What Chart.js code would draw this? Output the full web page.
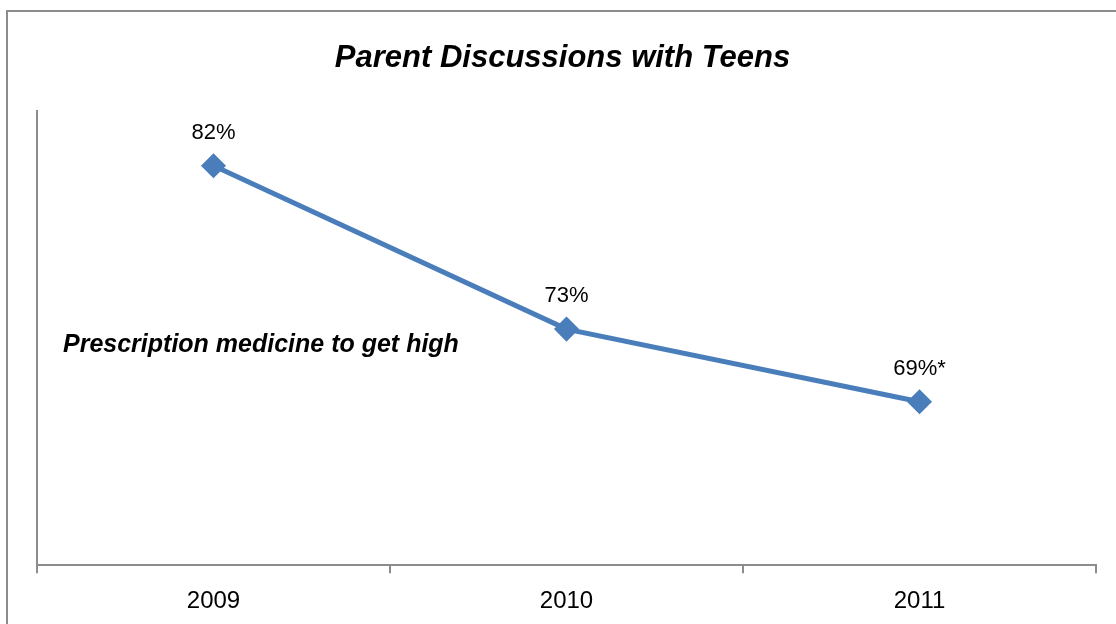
<!DOCTYPE html>
<html>
<head>
<meta charset="utf-8">
<script src="https://cdn.jsdelivr.net/npm/chart.js@4.4.0/dist/chart.umd.min.js"></script>
<style>
  html, body { margin: 0; padding: 0; background: #fff; }
  #wrap { width: 1116px; height: 624px; position: relative; }
</style>
</head>
<body>
<div id="wrap"><canvas id="myChart"></canvas></div>
<script>
const years = ['2009', '2010', '2011'];
const talkedPct = [82, 73, 69];
const pointLabels = ['82%', '73%', '69%*'];
const seriesNote = 'Prescription medicine to get high';

const ctx = document.getElementById('myChart');

// outer frame + note text + labels over points
const extras = {
  id: 'extras',
  beforeDraw(chart) {
    const c = chart.ctx;
    c.save();
    c.strokeStyle = '#8c8c8c';
    c.lineWidth = 2;
    c.strokeRect(7, 11, 1200, 700);
    c.restore();
  },
  afterDatasetsDraw(chart) {
    const c = chart.ctx;
    const meta = chart.getDatasetMeta(0);
    c.save();
    c.fillStyle = '#000';
    c.font = '22px "Liberation Sans", Arial, sans-serif';
    c.textAlign = 'center';
    c.textBaseline = 'middle';
    meta.data.forEach((pt, i) => {
      c.fillText(pointLabels[i], pt.x, pt.y - 33);
    });
    c.font = 'italic bold 25px "Liberation Sans", Arial, sans-serif';
    c.textAlign = 'left';
    c.fillText(seriesNote, 63, 345);
    c.restore();
  }
};

new Chart(ctx, {
  type: 'line',
  data: {
    labels: years,
    datasets: [{
      data: talkedPct,
      borderColor: '#4a7ebb',
      backgroundColor: '#4a7ebb',
      borderWidth: 5,
      fill: false,
      tension: 0,
      pointStyle: 'rectRot',
      pointRadius: 9,
      pointHoverRadius: 9,
      pointBackgroundColor: '#4a7ebb',
      pointBorderColor: '#4a7ebb',
    }]
  },
  options: {
    responsive: true,
    maintainAspectRatio: false,
    animation: false,
    layout: {
      padding: { left: 29, right: 20, top: 0, bottom: -6 }
    },
    plugins: {
      legend: { display: false },
      tooltip: { enabled: false },
      title: {
        display: true,
        text: 'Parent Discussions with Teens',
        color: '#000',
        font: { family: '"Liberation Sans", Arial, sans-serif', size: 31, style: 'italic', weight: 'bold' },
        padding: { top: 40, bottom: 34 }
      }
    },
    scales: {
      x: {
        offset: true,
        grid: {
          display: true,
          drawOnChartArea: false,
          offset: true,
          tickLength: 8,
          color: '#8c8c8c',
          lineWidth: 2
        },
        border: { display: true, color: '#8c8c8c', width: 2 },
        ticks: {
          color: '#000',
          padding: 14,
          font: { family: '"Liberation Sans", Arial, sans-serif', size: 24 }
        }
      },
      y: {
        min: 60,
        max: 85,
        grid: { display: false },
        border: { display: true, color: '#8c8c8c', width: 2 },
        ticks: { display: false }
      }
    }
  },
  plugins: [extras]
});
</script>
</body>
</html>
